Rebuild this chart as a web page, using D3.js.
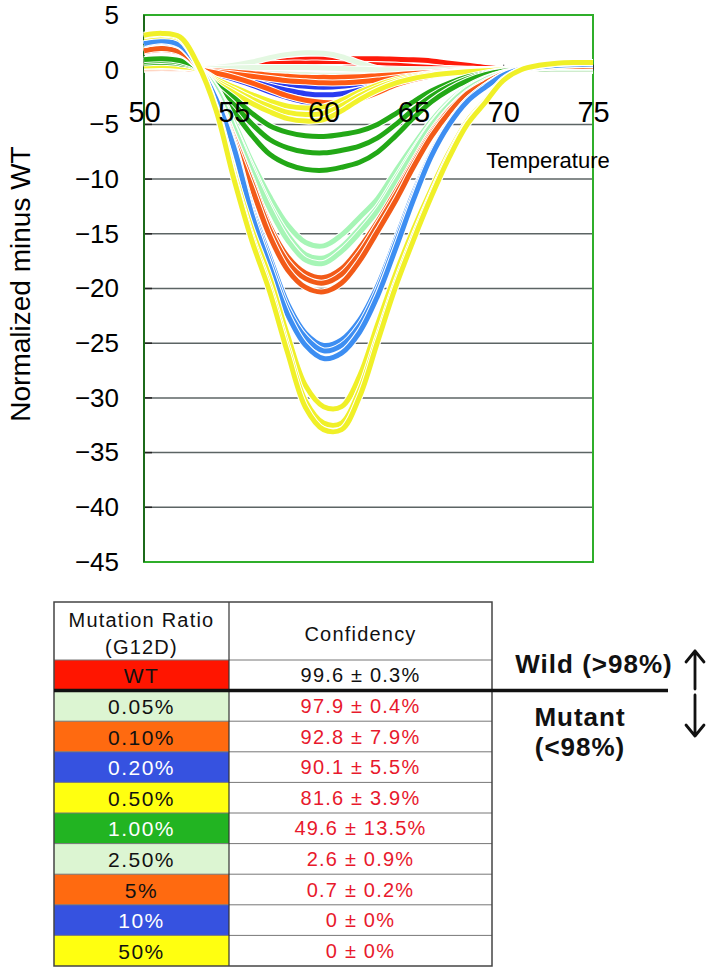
<!DOCTYPE html>
<html><head><meta charset="utf-8">
<script src="https://cdn.jsdelivr.net/npm/d3@7"></script>
<style>
body{margin:0;background:#fff}
svg{display:block}
text{font-family:"Liberation Sans",Arial,Helvetica,sans-serif}
</style>
</head><body>
<svg id="chart" width="718" height="975"></svg>
<script>
// ---------- data ----------
const temps = [50,51,52,53,54,55,56,57,58,59,60,61,62,63,64,65,66,67,68,69,70,71,72,73,74,75];
const xTicks = [50,55,60,65,70,75];
const yTicks = [5,0,-5,-10,-15,-20,-25,-30,-35,-40,-45];
const gridValues = [-5,-10,-15,-20,-25,-30,-35,-40];

const seriesWT = [
 [0.40,0.45,0.35,0.05,0.20,0.40,0.60,0.75,0.85,0.95,1.00,1.00,1.00,1.00,0.95,0.90,0.80,0.60,0.40,0.20,0.05,0,0,0.05,0.10,0.10],
 [0.30,0.35,0.30,0.05,0.15,0.30,0.45,0.55,0.60,0.60,0.60,0.55,0.50,0.45,0.40,0.30,0.20,0.10,0.05,0,0,0,0,0.05,0.10,0.10],
 [0.20,0.25,0.20,0.03,-0.05,-0.10,-0.10,0,0.10,0.15,0.20,0.20,0.15,0.10,0.05,0,-0.05,-0.05,-0.02,0,0,0,0,0.05,0.10,0.10],
 [0.25,0.30,0.25,0.03,-0.10,-0.25,-0.40,-0.50,-0.60,-0.65,-0.65,-0.60,-0.55,-0.45,-0.35,-0.25,-0.15,-0.08,-0.03,0,0,0,0,0.05,0.10,0.10]
];
const series005 = [
 [0.80,0.90,0.70,0.10,0.20,0.40,0.70,1.10,1.40,1.55,1.50,1.20,0.60,0.10,-0.15,-0.25,-0.25,-0.20,-0.10,-0.05,0,0,0,0.05,0.10,0.10],
 [0.50,0.55,0.45,0.05,-0.05,-0.10,-0.20,-0.30,-0.40,-0.45,-0.50,-0.50,-0.45,-0.40,-0.35,-0.30,-0.25,-0.15,-0.08,-0.03,0,0,0,0.05,0.10,0.10],
 [0.60,0.65,0.50,0.05,0.10,0.15,0.20,0.20,0.20,0.20,0.15,0.10,0.05,0,0,0,0,0,0,0,0,0,0,0.05,0.10,0.10]
];
const series02 = [
 [0.10,0.11,0.08,0,-0.19,-0.45,-0.72,-1.04,-1.31,-1.52,-1.60,-1.52,-1.28,-0.96,-0.67,-0.45,-0.29,-0.18,-0.10,-0.05,-0.02,0,0,0,0,0],
 [0.14,0.16,0.12,0,-0.28,-0.64,-1.04,-1.50,-1.89,-2.19,-2.30,-2.19,-1.84,-1.38,-0.97,-0.64,-0.41,-0.25,-0.14,-0.07,-0.02,0,0,0,0,0],
 [0.19,0.22,0.16,0,-0.37,-0.87,-1.40,-2.02,-2.54,-2.95,-3.10,-2.95,-2.48,-1.86,-1.30,-0.87,-0.56,-0.34,-0.19,-0.09,-0.03,0,0,0,0,0]
];
const series01 = [
 [0.05,0.06,0.05,0,-0.10,-0.20,-0.35,-0.50,-0.60,-0.70,-0.70,-0.70,-0.65,-0.55,-0.45,-0.35,-0.25,-0.15,-0.08,-0.03,0,0,0,0,0,0],
 [0.08,0.10,0.08,0,-0.20,-0.40,-0.60,-0.80,-1.00,-1.10,-1.20,-1.20,-1.10,-0.95,-0.75,-0.55,-0.35,-0.20,-0.10,-0.05,0,0,0,0,0,0],
 [0.15,0.18,0.14,0,-0.30,-0.70,-1.20,-1.80,-2.40,-2.80,-3.00,-3.00,-2.70,-2.10,-1.40,-0.90,-0.55,-0.30,-0.15,-0.05,0,0,0,0,0,0]
];
const series05 = [
 [0.25,0.28,0.21,0.04,-0.88,-1.58,-2.28,-2.87,-3.33,-3.50,-3.40,-2.80,-2.03,-1.40,-0.91,-0.60,-0.39,-0.25,-0.14,-0.07,-0.02,0,0,0,0,0],
 [0.29,0.33,0.25,0.04,-1.03,-1.85,-2.67,-3.36,-3.90,-4.10,-3.98,-3.28,-2.38,-1.64,-1.07,-0.70,-0.45,-0.29,-0.16,-0.08,-0.02,0,0,0,0,0],
 [0.33,0.38,0.28,0.05,-1.18,-2.12,-3.06,-3.85,-4.47,-4.70,-4.56,-3.76,-2.73,-1.88,-1.22,-0.80,-0.52,-0.33,-0.19,-0.09,-0.02,0,0,0,0,0]
];
const series1 = [
 [0.61,0.67,0.55,0.12,-1.34,-2.56,-3.97,-5.12,-5.73,-6.04,-6.10,-5.92,-5.61,-5.00,-4.03,-2.93,-1.95,-1.22,-0.67,-0.31,-0.09,0,0.03,0.03,0.03,0.03],
 [0.76,0.84,0.68,0.15,-1.67,-3.19,-4.94,-6.38,-7.14,-7.52,-7.60,-7.37,-6.99,-6.23,-5.02,-3.65,-2.43,-1.52,-0.84,-0.38,-0.11,0,0.04,0.04,0.04,0.04],
 [0.92,1.01,0.83,0.18,-2.02,-3.86,-5.98,-7.73,-8.65,-9.11,-9.20,-8.92,-8.46,-7.54,-6.07,-4.42,-2.94,-1.84,-1.01,-0.46,-0.14,0,0.05,0.05,0.05,0.05]
];
const series25 = [
 [1.77,1.85,1.53,0.24,-1.61,-4.8,-8.4,-11.6,-14.2,-15.8,-16.1,-15.1,-13.5,-11.8,-9.3,-6.9,-4.7,-2.9,-1.6,-0.8,-0.3,0,0.16,0.16,0.16,0.16],
 [1.89,1.98,1.63,0.26,-1.72,-5.2,-8.9,-12.4,-15.1,-16.9,-17.2,-16.2,-14.5,-12.6,-10.0,-7.4,-5.0,-3.1,-1.7,-0.9,-0.3,0,0.17,0.17,0.17,0.17],
 [1.95,2.04,1.68,0.27,-1.77,-5.3,-9.2,-12.7,-15.6,-17.4,-17.7,-16.6,-14.9,-12.9,-10.3,-7.6,-5.1,-3.2,-1.8,-0.9,-0.35,0,0.18,0.18,0.18,0.18]
];
const series5 = [
 [1.62,1.81,1.52,0.29,-2.28,-6.1,-10.1,-14.3,-17.1,-18.6,-19.0,-18.2,-16.3,-13.9,-11.2,-8.4,-5.7,-3.6,-2.1,-1.1,-0.4,0,0.19,0.29,0.29,0.29],
 [1.66,1.85,1.56,0.29,-2.34,-6.2,-10.3,-14.6,-17.6,-19.1,-19.5,-18.7,-16.8,-14.2,-11.5,-8.6,-5.9,-3.7,-2.2,-1.2,-0.4,0,0.20,0.29,0.29,0.29],
 [1.73,1.93,1.62,0.30,-2.44,-6.5,-10.8,-15.2,-18.3,-19.9,-20.3,-19.5,-17.5,-14.8,-12.0,-8.9,-6.1,-3.9,-2.2,-1.2,-0.4,0,0.20,0.30,0.30,0.30]
];
const series10 = [
 [2.27,2.52,2.14,0.38,-2.52,-6.8,-12.6,-17.1,-21.4,-24.1,-25.2,-24.7,-22.9,-19.8,-15.6,-11.3,-7.6,-4.8,-2.8,-1.5,-0.5,0.05,0.25,0.38,0.45,0.45],
 [2.31,2.57,2.18,0.39,-2.57,-6.9,-12.9,-17.5,-21.9,-24.5,-25.7,-25.2,-23.4,-20.2,-15.9,-11.6,-7.7,-4.9,-2.8,-1.5,-0.5,0.05,0.26,0.39,0.46,0.46],
 [2.38,2.64,2.24,0.40,-2.64,-7.1,-13.2,-18.0,-22.4,-25.2,-26.4,-25.9,-24.0,-20.7,-16.4,-11.9,-7.9,-5.0,-2.9,-1.6,-0.5,0.05,0.26,0.40,0.48,0.48]
];
const series50 = [
 [2.95,3.11,2.80,0.47,-3.42,-9.33,-14.6,-19.0,-24.3,-28.9,-30.8,-30.8,-28.0,-23.3,-18.7,-14.6,-10.9,-7.5,-4.7,-2.8,-0.9,0,0.37,0.56,0.62,0.62],
 [3.10,3.26,2.93,0.49,-3.59,-9.78,-15.3,-19.9,-25.4,-30.3,-32.3,-32.3,-29.3,-24.5,-19.6,-15.3,-11.4,-7.8,-4.9,-2.9,-1.0,0,0.39,0.59,0.65,0.65],
 [3.15,3.32,3.00,0.50,-3.65,-9.96,-15.6,-20.3,-25.9,-30.9,-32.9,-32.9,-29.9,-24.9,-19.9,-15.6,-11.6,-8.0,-5.0,-3.0,-1.0,0,0.40,0.60,0.66,0.66]
];

const ratios = ["WT","0.05%","0.10%","0.20%","0.50%","1.00%","2.50%","5%","10%","50%"];
const confMean = [99.6,97.9,92.8,90.1,81.6,49.6,2.6,0.7,0,0];
const confSD = [0.3,0.4,7.9,5.5,3.9,13.5,0.9,0.2,0,0];

// ---------- styles ----------
const lineGroups = [
  {s: seriesWT, c: "#ff1a0a"},
  {s: series005, c: "#e4f8e2"},
  {s: series02, c: "#2a3cf0"},
  {s: series01, c: "#ff5a14"},
  {s: series05, c: "#f2f22c"},
  {s: series1, c: "#22a816"},
  {s: series25, c: "#a6f5b6"},
  {s: series5, c: "#f25a18"},
  {s: series10, c: "#3d8ef2"},
  {s: series50, c: "#f0f028"}
];
const cellFill = ["#ff1500","#dcf5d2","#ff6a10","#3652e0","#ffff10","#22b422","#dcf5d2","#ff6a10","#3652e0","#ffff10"];
const cellText = ["#111","#111","#111","#fff","#111","#fff","#111","#111","#fff","#111"];

const svg = d3.select("#chart");

// ---------- chart ----------
const x = d3.scaleLinear().domain([50,75]).range([144,593]);
const y = d3.scaleLinear().domain([-45,5]).range([562,15]);

// gridlines
svg.append("g").selectAll("line").data(gridValues).join("line")
  .attr("x1", x(50)).attr("x2", x(75))
  .attr("y1", d => y(d)).attr("y2", d => y(d))
  .attr("stroke", "#5c6464").attr("stroke-width", 1.5);
svg.append("g").selectAll("line").data(gridValues).join("line")
  .attr("x1", x(50)).attr("x2", x(50) + 8)
  .attr("y1", d => y(d)).attr("y2", d => y(d))
  .attr("stroke", "#222").attr("stroke-width", 1.5);

// plot frame
svg.append("rect").attr("x", x(50)).attr("y", y(5))
  .attr("width", x(75) - x(50)).attr("height", y(-45) - y(5))
  .attr("fill", "none").attr("stroke", "#2fae2a").attr("stroke-width", 2);
svg.append("line").attr("x1", x(50)).attr("x2", x(50)).attr("y1", y(5)).attr("y2", y(-45))
  .attr("stroke", "#1c6a1a").attr("stroke-width", 2);

// x axis line + ticks at zero (under the curves)
const xAxisLine = d3.axisBottom(x).tickValues(xTicks).tickSizeInner(-5).tickSizeOuter(0).tickFormat("");
const gx = svg.append("g").attr("transform", `translate(0,${y(0)})`).call(xAxisLine);
gx.select(".domain").attr("stroke", "#333").attr("stroke-width", 1.5);
gx.selectAll(".tick line").attr("stroke", "#333");

// y axis labels
const yAxis = d3.axisLeft(y).tickValues(yTicks).tickSize(0).tickPadding(25)
  .tickFormat(d => d < 0 ? "\u2212" + Math.abs(d) : String(d));
const gy = svg.append("g").attr("transform", `translate(${x(50)},0)`).call(yAxis);
gy.select(".domain").remove();
gy.selectAll("text").attr("font-size", 26).attr("fill", "#000");

// lines
const line = d3.line()
  .x((d, i) => x(temps[i]))
  .y(d => y(d))
  .curve(d3.curveCatmullRom.alpha(0.5));

const gl = svg.append("g");
lineGroups.forEach(g => {
  g.s.forEach(vals => {
    gl.append("path").attr("d", line(vals)).attr("fill", "none")
      .attr("stroke", "#fff").attr("stroke-width", 7).attr("stroke-linejoin", "round");
    gl.append("path").attr("d", line(vals)).attr("fill", "none")
      .attr("stroke", g.c).attr("stroke-width", 5).attr("stroke-linejoin", "round");
  });
});

// x tick labels on top of curves
const xAxisLabels = d3.axisBottom(x).tickValues(xTicks).tickSize(0).tickPadding(32).tickFormat(d3.format("d"));
const gxl = svg.append("g").attr("transform", `translate(0,${y(0)})`).call(xAxisLabels);
gxl.select(".domain").remove();
gxl.selectAll("text").attr("font-size", 29).attr("fill", "#000");

// axis titles
svg.append("text").attr("x", 548).attr("y", 168).attr("text-anchor", "middle")
  .attr("font-size", 22).attr("fill", "#000").text("Temperature");
svg.append("text").attr("transform", "translate(20,284) rotate(-90)")
  .attr("text-anchor", "middle").attr("dominant-baseline", "central")
  .attr("font-size", 28).attr("fill", "#000").text("Normalized minus WT");

// ---------- table ----------
const tx0 = 54, tx1 = 229, tx2 = 492, tTop = 602, tHead = 660, rowH = 30.6;
const rowY = d3.scaleLinear().domain([0, ratios.length]).range([tHead, tHead + rowH * ratios.length]);
const tBottom = rowY(ratios.length);

const rows = svg.append("g").selectAll("g").data(ratios).join("g");
rows.append("rect").attr("x", tx0).attr("y", (d, i) => rowY(i))
  .attr("width", tx1 - tx0).attr("height", rowH)
  .attr("fill", (d, i) => cellFill[i]);
rows.append("line").attr("x1", tx0).attr("x2", tx2)
  .attr("y1", (d, i) => rowY(i)).attr("y2", (d, i) => rowY(i))
  .attr("stroke", "#777").attr("stroke-width", 1);
rows.append("text").attr("x", (tx0 + tx1) / 2).attr("y", (d, i) => rowY(i) + rowH / 2 + 8)
  .attr("text-anchor", "middle").attr("font-size", 21).attr("letter-spacing", 1.5)
  .attr("fill", (d, i) => cellText[i]).text(d => d);
rows.append("text").attr("x", (tx1 + tx2) / 2).attr("y", (d, i) => rowY(i) + rowH / 2 + 7)
  .attr("text-anchor", "middle").attr("font-size", 20).attr("letter-spacing", 1.2)
  .attr("fill", (d, i) => i === 0 ? "#111" : "#e8192c")
  .text((d, i) => `${confMean[i]} \u00b1 ${confSD[i]}%`);

// header
svg.append("text").attr("x", (tx0 + tx1) / 2).attr("y", 627).attr("text-anchor", "middle")
  .attr("font-size", 20).attr("letter-spacing", 1.2).attr("fill", "#111").text("Mutation Ratio");
svg.append("text").attr("x", (tx0 + tx1) / 2).attr("y", 654).attr("text-anchor", "middle")
  .attr("font-size", 20).attr("letter-spacing", 1.2).attr("fill", "#111").text("(G12D)");
svg.append("text").attr("x", (tx1 + tx2) / 2).attr("y", 641).attr("text-anchor", "middle")
  .attr("font-size", 20).attr("letter-spacing", 1.2).attr("fill", "#111").text("Confidency");

// table frame
svg.append("line").attr("x1", tx1).attr("x2", tx1).attr("y1", tTop).attr("y2", tBottom)
  .attr("stroke", "#333").attr("stroke-width", 1.2);
svg.append("rect").attr("x", tx0).attr("y", tTop).attr("width", tx2 - tx0).attr("height", tBottom - tTop)
  .attr("fill", "none").attr("stroke", "#444").attr("stroke-width", 1.5);

// threshold line
svg.append("line").attr("x1", tx0).attr("x2", 668).attr("y1", rowY(1)).attr("y2", rowY(1))
  .attr("stroke", "#111").attr("stroke-width", 3.5);

// labels
svg.append("text").attr("x", 594).attr("y", 673).attr("text-anchor", "middle")
  .attr("font-size", 26).attr("font-weight", "bold").attr("letter-spacing", 1).attr("fill", "#111")
  .text("Wild (>98%)");
svg.append("text").attr("x", 580).attr("y", 726).attr("text-anchor", "middle")
  .attr("font-size", 26).attr("font-weight", "bold").attr("letter-spacing", 1).attr("fill", "#111")
  .text("Mutant");
svg.append("text").attr("x", 580).attr("y", 756).attr("text-anchor", "middle")
  .attr("font-size", 26).attr("font-weight", "bold").attr("letter-spacing", 1).attr("fill", "#111")
  .text("(<98%)");

// arrows
const ax = 695;
const arrow = svg.append("g").attr("stroke", "#111").attr("stroke-width", 2.8)
  .attr("fill", "none").attr("stroke-linecap", "round").attr("stroke-linejoin", "round");
arrow.append("path").attr("d", `M${ax},689 L${ax},651 M${ax-9},662 L${ax},651 L${ax+9},662`);
arrow.append("path").attr("d", `M${ax},695 L${ax},736 M${ax-9},725 L${ax},736 L${ax+9},725`);
</script>
</body></html>
